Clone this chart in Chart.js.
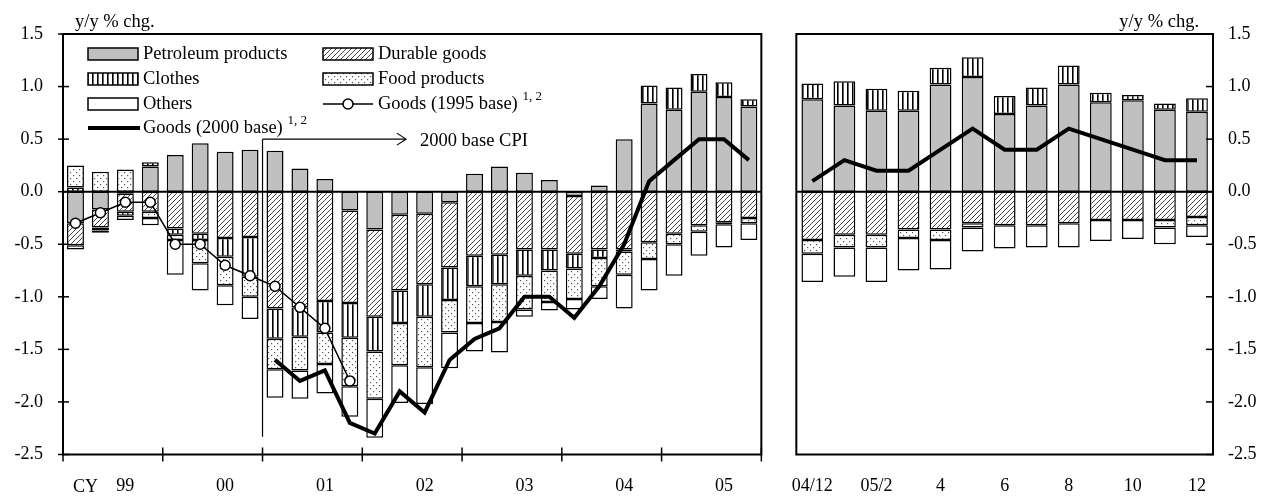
<!DOCTYPE html>
<html>
<head>
<meta charset="utf-8">
<script src="https://cdn.jsdelivr.net/npm/chart.js@4/dist/chart.umd.min.js"></script>
<style>
  body { margin: 0; background: #fff; width: 1277px; height: 500px; position: relative; overflow: hidden; }
  #wl { position: absolute; left: 0; top: 0; }
  #wr { position: absolute; left: 770px; top: 0; }
</style>
</head>
<body>
<div id="wl"><canvas id="left" width="770" height="500"></canvas></div>
<div id="wr"><canvas id="right" width="507" height="500"></canvas></div>
<script>
// ---- quarterly data (CY 1999 Q1 .. 2005 Q4)
const quarters = ['99Q1','99Q2','99Q3','99Q4','00Q1','00Q2','00Q3','00Q4',
                  '01Q1','01Q2','01Q3','01Q4','02Q1','02Q2','02Q3','02Q4',
                  '03Q1','03Q2','03Q3','03Q4','04Q1','04Q2','04Q3','04Q4',
                  '05Q1','05Q2','05Q3','05Q4'];
const quarterTicks = ['','','99','','','','00','','','','01','','','','02','',
                      '','','03','','','','04','','','','05',''];
const qPetroleum = [-0.30,-0.17,-0.02,0.24,0.35,0.46,0.38,0.40,0.39,0.22,0.12,-0.18,-0.36,-0.22,
                    -0.21,-0.10,0.17,0.24,0.18,0.11,-0.04,0.06,0.50,0.84,0.78,0.95,0.90,0.81];
const qDurable = [-0.21,-0.17,-0.17,-0.19,-0.35,-0.40,-0.44,-0.43,-1.11,-1.10,-1.04,-0.88,-0.83,-0.72,
                  -0.67,-0.62,-0.61,-0.60,-0.55,-0.55,-0.55,-0.55,-0.55,-0.48,-0.40,-0.32,-0.29,-0.25];
const qClothes = [0.04,-0.03,-0.04,0.04,-0.06,-0.06,-0.18,-0.38,-0.29,-0.28,-0.30,-0.33,-0.33,-0.31,
                  -0.31,-0.31,-0.29,-0.28,-0.25,-0.20,-0.14,-0.08,-0.02,0.17,0.21,0.17,0.14,0.07];
const qFood = [0.21,0.19,0.21,-0.06,-0.05,-0.22,-0.27,-0.19,-0.29,-0.32,-0.30,-0.46,-0.45,-0.40,
               -0.48,-0.31,-0.35,-0.36,-0.32,-0.30,-0.29,-0.27,-0.22,-0.16,-0.10,-0.06,-0.02,-0.05];
const qOthers = [-0.04,-0.02,-0.04,-0.07,-0.33,-0.26,-0.19,-0.21,-0.27,-0.27,-0.28,-0.29,-0.37,-0.36,
                 -0.35,-0.34,-0.27,-0.29,-0.07,-0.08,-0.10,-0.12,-0.32,-0.30,-0.30,-0.23,-0.22,-0.16];
const qGoods1995 = [-0.3,-0.2,-0.1,-0.1,-0.5,-0.5,-0.7,-0.8,-0.9,-1.1,-1.3,-1.8,
                    null,null,null,null,null,null,null,null,null,null,null,null,null,null,null,null];
const qGoods2000 = [null,null,null,null,null,null,null,null,-1.6,-1.8,-1.7,-2.2,-2.3,-1.9,
                    -2.1,-1.6,-1.4,-1.3,-1.0,-1.0,-1.2,-0.9,-0.5,0.1,0.3,0.5,0.5,0.3];

// ---- monthly data (2004/12 .. 2005/12)
const months = ['04/12','05/1','05/2','05/3','05/4','05/5','05/6','05/7','05/8','05/9','05/10','05/11','05/12'];
const monthTicks = ['04/12','','05/2','','4','','6','','8','','10','','12'];
const mPetroleum = [0.88,0.82,0.77,0.77,1.02,1.09,0.74,0.82,1.02,0.85,0.87,0.78,0.76];
const mDurable = [-0.46,-0.41,-0.41,-0.36,-0.36,-0.30,-0.32,-0.32,-0.30,-0.27,-0.27,-0.27,-0.24];
const mClothes = [0.15,0.23,0.21,0.19,0.16,0.19,0.17,0.17,0.18,0.09,0.05,0.06,0.13];
const mFood = [-0.13,-0.12,-0.12,-0.08,-0.10,-0.04,null,null,null,null,null,-0.07,-0.08];
const mOthers = [-0.27,-0.28,-0.33,-0.31,-0.28,-0.23,-0.22,-0.21,-0.23,-0.20,-0.18,-0.16,-0.11];
const mGoods2000 = [0.1,0.3,0.2,0.2,0.4,0.6,0.4,0.4,0.6,0.5,0.4,0.3,0.3];

const FONT = "'Liberation Serif', 'Times New Roman', serif";
const TEXT = '18.5px ' + FONT;
Chart.defaults.font.family = FONT;
Chart.defaults.font.size = 18;
Chart.defaults.color = '#000';

// fill patterns
function makePattern(w, h, draw) {
  const c = document.createElement('canvas');
  c.width = w; c.height = h;
  const g = c.getContext('2d');
  g.fillStyle = '#fff';
  g.fillRect(0, 0, w, h);
  draw(g);
  return g.createPattern(c, 'repeat');
}
const grayFill = '#c0c0c0';
const hatchFill = makePattern(5, 5, g => {
  g.strokeStyle = '#444'; g.lineWidth = 1;
  g.beginPath();
  g.moveTo(0, 5); g.lineTo(5, 0);
  g.moveTo(-1, 1); g.lineTo(1, -1);
  g.moveTo(4, 6); g.lineTo(6, 4);
  g.stroke();
});
const stripeFill = makePattern(5, 5, g => { g.fillStyle = '#000'; g.fillRect(2, 0, 1.6, 5); });
const dotFill = makePattern(6, 6, g => {
  g.fillStyle = '#555';
  g.fillRect(1, 1, 1.2, 1.2);
  g.fillRect(4, 4, 1.2, 1.2);
});
const whiteFill = '#fff';

function barSet(label, data, fill) {
  return { type: 'bar', label, data, backgroundColor: fill, borderColor: '#000', borderWidth: 1.5,
           borderSkipped: false, barPercentage: 0.68, categoryPercentage: 1, order: 1 };
}
function thickLine(label, data) {
  return { type: 'line', label, data, borderColor: '#000', borderWidth: 4, pointRadius: 0,
           tension: 0, stack: 'g2000', order: 0 };
}

function makeOptions(side, tickLabels, padding, axisWidth) {
  return {
    responsive: false,
    animation: false,
    layout: { padding },
    plugins: { legend: { display: false }, tooltip: { enabled: false } },
    scales: {
      x: {
        stacked: true, offset: true,
        grid: { display: false, drawTicks: false },
        border: { display: false },
        ticks: { autoSkip: false, maxRotation: 0, padding: 21, callback: (v, i) => tickLabels[i] },
        afterFit: s => { s.height = 45.5; }
      },
      y: {
        stacked: true, position: side, min: -2.5, max: 1.5,
        grid: { display: false, drawTicks: false },
        border: { display: false },
        ticks: { stepSize: 0.5, padding: side === 'left' ? 20 : 15, callback: v => v.toFixed(1) },
        afterFit: s => { s.width = axisWidth; }
      }
    }
  };
}

function line(ctx, x1, y1, x2, y2) {
  ctx.beginPath(); ctx.moveTo(x1, y1); ctx.lineTo(x2, y2); ctx.stroke();
}
function zeroLine(chart) {
  const { ctx, chartArea: a, scales: { y } } = chart;
  ctx.save();
  ctx.strokeStyle = '#000'; ctx.lineWidth = 2;
  const py = y.getPixelForValue(0);
  line(ctx, a.left, py, a.right, py);
  ctx.restore();
}
function frame(chart, tickFrom, tickTo) {
  const { ctx, chartArea: a, scales: { y } } = chart;
  ctx.strokeStyle = '#000'; ctx.lineWidth = 2;
  ctx.strokeRect(a.left, a.top, a.right - a.left, a.bottom - a.top);
  ctx.lineWidth = 1.5;
  y.ticks.forEach(t => {
    const py = y.getPixelForValue(t.value);
    line(ctx, tickFrom, py, tickTo, py);
  });
}
function superText(ctx, text, sup, x, y) {
  ctx.font = TEXT;
  ctx.fillText(text, x, y);
  const w = ctx.measureText(text + ' ').width;
  ctx.font = '13px ' + FONT;
  ctx.fillText(sup, x + w, y - 7);
  ctx.font = TEXT;
}

const leftDecor = {
  id: 'leftDecor',
  beforeDatasetsDraw: zeroLine,
  afterDraw(chart) {
    const { ctx, chartArea: a, scales: { x, y } } = chart;
    ctx.save();
    frame(chart, a.left - 5, a.left + 6);
    // year boundary ticks
    ctx.lineWidth = 1.5;
    for (let i = 0; i <= quarters.length; i += 4) {
      const px = x.getPixelForValue(i - 0.5);
      line(ctx, px, a.bottom - 7, px, a.bottom + 7);
    }
    // 2000 base CPI marker
    const vx = x.getPixelForValue(7.5);
    const ay = y.getPixelForValue(0.5);
    ctx.lineWidth = 1.2;
    line(ctx, vx, ay, vx, y.getPixelForValue(-2.33));
    const ax = x.getPixelForValue(13.25);
    line(ctx, vx, ay, ax, ay);
    ctx.beginPath(); ctx.moveTo(ax - 9, ay - 6); ctx.lineTo(ax, ay); ctx.lineTo(ax - 9, ay + 6); ctx.stroke();
    ctx.fillStyle = '#000';
    ctx.font = TEXT;
    ctx.textBaseline = 'middle';
    ctx.textAlign = 'left';
    ctx.fillText('2000 base CPI', ax + 14, ay + 2);
    // unit and CY labels
    ctx.fillText('y/y % chg.', 75, 22);
    ctx.font = '18px ' + FONT;
    ctx.fillText('CY', 73, 487);
    ctx.font = TEXT;
    // legend
    const rows = [54, 79, 104, 128];
    const c1 = 88, c2 = 323;
    const box = (bx, by, fill) => {
      ctx.fillStyle = fill; ctx.fillRect(bx, by - 6, 50, 12);
      ctx.strokeStyle = '#000'; ctx.lineWidth = 1.5; ctx.strokeRect(bx, by - 6, 50, 12);
      ctx.fillStyle = '#000';
    };
    box(c1, rows[0], grayFill);   ctx.fillText('Petroleum products', c1 + 55, rows[0]);
    box(c2, rows[0], hatchFill);  ctx.fillText('Durable goods', c2 + 55, rows[0]);
    box(c1, rows[1], stripeFill); ctx.fillText('Clothes', c1 + 55, rows[1]);
    box(c2, rows[1], dotFill);    ctx.fillText('Food products', c2 + 55, rows[1]);
    box(c1, rows[2], whiteFill);  ctx.fillText('Others', c1 + 55, rows[2]);
    ctx.lineWidth = 1.5;
    line(ctx, c2, rows[2], c2 + 50, rows[2]);
    ctx.beginPath(); ctx.arc(c2 + 25, rows[2], 5, 0, Math.PI * 2);
    ctx.fillStyle = '#fff'; ctx.fill(); ctx.stroke();
    ctx.fillStyle = '#000';
    superText(ctx, 'Goods (1995 base)', '1, 2', c2 + 55, rows[2]);
    ctx.lineWidth = 4;
    line(ctx, c1, rows[3], c1 + 52, rows[3]);
    superText(ctx, 'Goods (2000 base)', '1, 2', c1 + 55, rows[3]);
    ctx.restore();
  }
};

const rightDecor = {
  id: 'rightDecor',
  beforeDatasetsDraw: zeroLine,
  afterDraw(chart) {
    const { ctx, chartArea: a } = chart;
    ctx.save();
    frame(chart, a.right - 7, a.right);
    ctx.fillStyle = '#000';
    ctx.font = TEXT;
    ctx.textBaseline = 'middle';
    ctx.textAlign = 'right';
    ctx.fillText('y/y % chg.', a.right - 14, 22);
    ctx.restore();
  }
};

new Chart(document.getElementById('left'), {
  type: 'bar',
  data: {
    labels: quarters,
    datasets: [
      barSet('Petroleum products', qPetroleum, grayFill),
      barSet('Durable goods', qDurable, hatchFill),
      barSet('Clothes', qClothes, stripeFill),
      barSet('Food products', qFood, dotFill),
      barSet('Others', qOthers, whiteFill),
      { type: 'line', label: 'Goods (1995 base)', data: qGoods1995, borderColor: '#000', borderWidth: 1.5,
        pointRadius: 5, pointBackgroundColor: '#fff', pointBorderColor: '#000', pointBorderWidth: 1.5,
        tension: 0, stack: 'g1995', order: 0 },
      thickLine('Goods (2000 base)', qGoods2000)
    ]
  },
  options: makeOptions('left', quarterTicks, { left: 0, right: 7, top: 34, bottom: 0 }, 63),
  plugins: [leftDecor]
});

new Chart(document.getElementById('right'), {
  type: 'bar',
  data: {
    labels: months,
    datasets: [
      barSet('Petroleum products', mPetroleum, grayFill),
      barSet('Durable goods', mDurable, hatchFill),
      barSet('Clothes', mClothes, stripeFill),
      barSet('Food products', mFood, dotFill),
      barSet('Others', mOthers, whiteFill),
      thickLine('Goods (2000 base)', mGoods2000)
    ]
  },
  options: makeOptions('right', monthTicks, { left: 22, right: 0, top: 34, bottom: 0 }, 64),
  plugins: [rightDecor]
});
</script>
</body>
</html>
